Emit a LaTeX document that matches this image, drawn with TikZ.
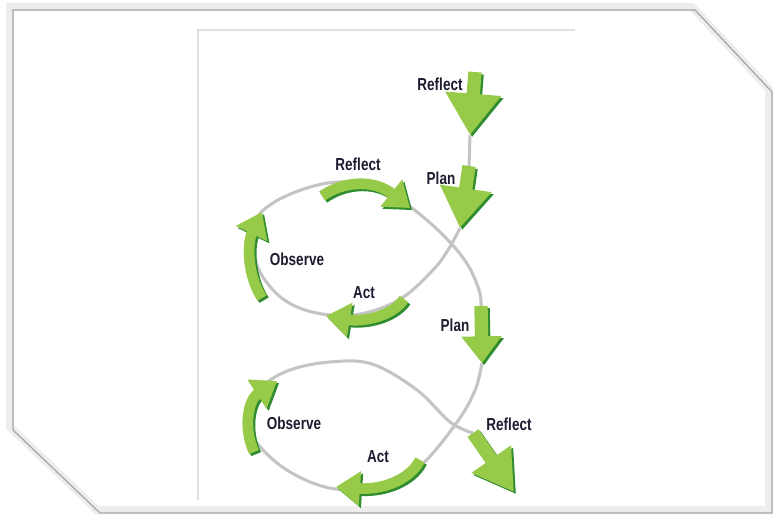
\documentclass[tikz,border=0pt]{standalone}
\usepackage{fontspec}
\newfontfamily\cyclefont[FakeStretch=0.78]{Liberation Sans}
\usetikzlibrary{arrows.meta}
\definecolor{leafgreen}{RGB}{150,202,72}
\definecolor{darkleaf}{RGB}{48,140,48}
\definecolor{trackgray}{RGB}{196,196,196}
\definecolor{framegray}{RGB}{165,165,165}
\definecolor{inkblue}{RGB}{28,28,48}

\begin{document}
\begin{tikzpicture}[x=0.75pt, y=-0.75pt,
    every node/.style={font=\cyclefont\bfseries\fontsize{13}{13}\selectfont, text=inkblue, inner sep=1pt},
    track/.style={draw=trackgray, line width=2.3pt},
    bigarrow/.style 2 args={line width=10pt, -{Triangle[width=#1, length=#2]}},
    looparrow/.style={line width=8pt, -{Triangle[width=25pt, length=18pt]}}]
    \useasboundingbox (0,0) rectangle (775,517);

    % frame
    \draw[black!7, line width=6pt] (10,7) -- (692,7) -- (769,89) -- (769,510) -- (97,510) -- (10,427) -- cycle;
    \draw[framegray, line width=0.9pt] (13,10) -- (695,10) -- (772,92) -- (772,513) -- (100,513) -- (13,430) -- cycle;
    \draw[black!12, line width=1pt] (575,30) -- (198,30) -- (198,500);

    % points
    \coordinate (r0s) at (475,72);
    \coordinate (r0t) at (470,135);
    \coordinate (p1s) at (469,166);
    \coordinate (p1t) at (460,228);
    \coordinate (p2s) at (481,306);
    \coordinate (p2t) at (482,363);
    \coordinate (r3s) at (473,433);
    \coordinate (r3t) at (514,492);

    % track
    \draw[track] (r0t) -- (p1s);
    \draw[track] plot[smooth, tension=0.6] coordinates {(p1t) (448,250) (433,270) (402,298) (365,313) (330,315) (297,307) (273,290) (256,262) (255,223) (273,203) (307,188) (340,182) (375,187) (405,203) (440,232) (466,262) (479,290) (p2s)};
    \draw[track] plot[smooth, tension=0.6] coordinates {(p2t) (477,385) (468,405) (455,425) (433,453) (417,467) (380,484) (335,489) (290,472) (257,443) (247,415) (262,387) (290,370) (330,362) (372,364) (417,390) (450,422) (r3s)};

    % arrows
    \foreach \col/\d in {darkleaf/1.6, leafgreen/0} {
    \begin{scope}[color=\col, transform canvas={shift={(\d pt,-\d pt)}}]
        \draw[bigarrow={40pt}{31pt}] (r0s) -- (r0t);
        \draw[bigarrow={37pt}{30pt}] (p1s) -- (p1t);
        \draw[bigarrow={29pt}{20pt}] (p2s) -- (p2t);
        \draw[bigarrow={34pt}{30pt}] (r3s) -- (r3t);
        \draw[looparrow] (322,196) .. controls (345,180) and (375,180) .. (410,208);
        \draw[looparrow] (262,298) .. controls (247,275) and (247,243) .. (262,212);
        \draw[looparrow] (404,299) .. controls (392,317) and (362,322) .. (326,316);
        \draw[looparrow] (254,452) .. controls (243,428) and (248,400) .. (277,381);
        \draw[looparrow] (420,460) .. controls (410,480) and (382,490) .. (336,487);
    \end{scope}
    }

    % labels
    \node (reflect0) at (440,84) {Reflect};
    \node (plan1) at (441,178) {Plan};
    \node (reflect1) at (358,164) {Reflect};
    \node (observe1) at (297,259) {Observe};
    \node (act1) at (364,293) {Act};
    \node (plan2) at (455,325) {Plan};
    \node (observe2) at (294,423) {Observe};
    \node (act2) at (378,457) {Act};
    \node (reflect2) at (509,424) {Reflect};
\end{tikzpicture}
\end{document}
